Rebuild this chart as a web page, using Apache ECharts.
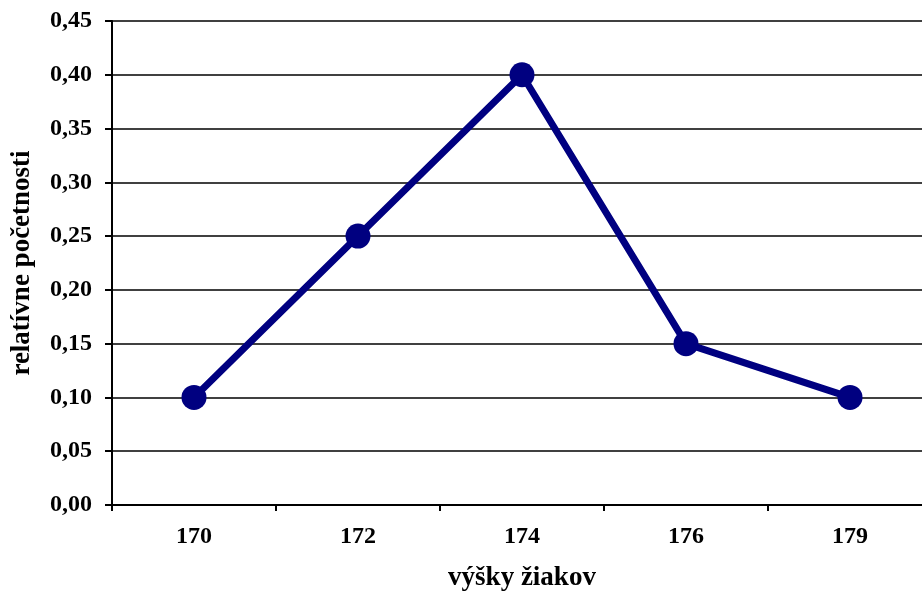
<!DOCTYPE html>
<html>
<head>
<meta charset="utf-8">
<script src="https://cdn.jsdelivr.net/npm/echarts@6/dist/echarts.min.js"></script>
<style>html,body{margin:0;padding:0;background:#fff}#c{width:922px;height:596px}</style>
</head>
<body>
<div id="c"></div>
<script>
const categories = ['170', '172', '174', '176', '179'];
const values = [0.10, 0.25, 0.40, 0.15, 0.10];
const xTitle = 'výšky žiakov';
const yTitle = 'relatívne početnosti';

const chart = echarts.init(document.getElementById('c'));
const font = '"Liberation Serif", "Times New Roman", serif';
chart.setOption({
  animation: false,
  grid: { left: 112, top: 21, bottom: 91, right: -10, containLabel: false, outerBoundsMode: 'none' },
  xAxis: {
    type: 'category',
    data: categories,
    boundaryGap: true,
    name: xTitle,
    nameLocation: 'middle',
    nameGap: 60,
    nameTextStyle: { fontFamily: font, fontWeight: 'bold', fontSize: 27, color: '#000' },
    axisLine: { lineStyle: { color: '#000', width: 2 } },
    axisTick: { show: true, length: 6, lineStyle: { color: '#000', width: 2 }, alignWithLabel: false },
    axisLabel: { fontFamily: font, fontWeight: 'bold', fontSize: 24, color: '#000', margin: 20 },
    splitLine: { show: false }
  },
  yAxis: {
    type: 'value',
    min: 0, max: 0.45, interval: 0.05,
    name: yTitle,
    nameLocation: 'middle',
    nameGap: 76,
    nameRotate: 90,
    nameTextStyle: { fontFamily: font, fontWeight: 'bold', fontSize: 27, color: '#000' },
    axisLine: { show: true, lineStyle: { color: '#000', width: 2 } },
    axisTick: { show: true, length: 7, lineStyle: { color: '#000', width: 2 } },
    axisLabel: {
      fontFamily: font, fontWeight: 'bold', fontSize: 24, color: '#000', margin: 20,
      formatter: v => v.toFixed(2).replace('.', ',')
    },
    splitLine: { show: true, lineStyle: { color: '#000', width: 1.5 } }
  },
  series: [{
    type: 'line',
    data: values,
    symbol: 'circle',
    symbolSize: 25,
    lineStyle: { color: '#000080', width: 7 },
    itemStyle: { color: '#000080' }
  }]
});
</script>
</body>
</html>
